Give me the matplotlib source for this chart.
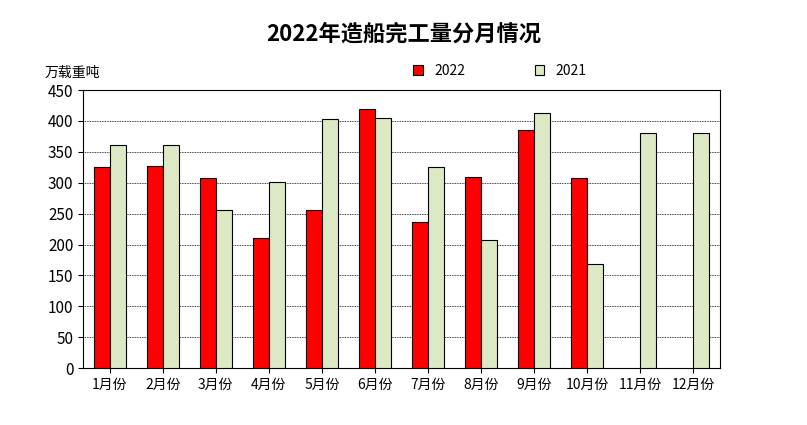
import matplotlib.pyplot as plt
import numpy as np

plt.rcParams['font.family'] = ['Noto Sans CJK SC', 'DejaVu Sans']

months = ["1月份", "2月份", "3月份", "4月份", "5月份", "6月份",
          "7月份", "8月份", "9月份", "10月份", "11月份", "12月份"]
v2022 = [325, 327, 307, 210, 256, 420, 236, 309, 386, 308]
v2021 = [361, 361, 256, 302, 404, 405, 326, 208, 413, 168, 380, 381]

fig = plt.figure(figsize=(8.07, 4.25), dpi=100)
ax = fig.add_axes([0.103, 0.134, 0.789, 0.654])

x = np.arange(len(months))
w = 0.3
ax.bar(x[:len(v2022)] - w / 2, v2022, w, color="#FF0000", edgecolor="black", linewidth=0.8, label="2022", zorder=3)
ax.bar(x + w / 2, v2021, w, color="#DDE8C4", edgecolor="black", linewidth=0.8, label="2021", zorder=3)

ax.set_xlim(-0.5, 11.5)
ax.set_ylim(0, 450)
ax.set_yticks(range(0, 451, 50))
ax.set_xticks(x)
ax.set_xticklabels(months, fontsize=10)
ax.tick_params(axis="y", labelsize=11)
ax.grid(axis="y", color="black", linewidth=0.6, linestyle=(0, (1, 1)), zorder=0)
for s in ax.spines.values():
    s.set_linewidth(0.8)

fig.text(0.5, 0.905, "2022年造船完工量分月情况", ha="center", fontsize=16, fontweight="bold")
fig.text(0.055, 0.82, "万载重吨", fontsize=10)
ax.legend(loc="lower right", bbox_to_anchor=(0.81, 1.0), ncol=2, frameon=False,
          fontsize=10, handlelength=0.7, handleheight=0.7, columnspacing=5)

fig.savefig("out.png", dpi=100)
